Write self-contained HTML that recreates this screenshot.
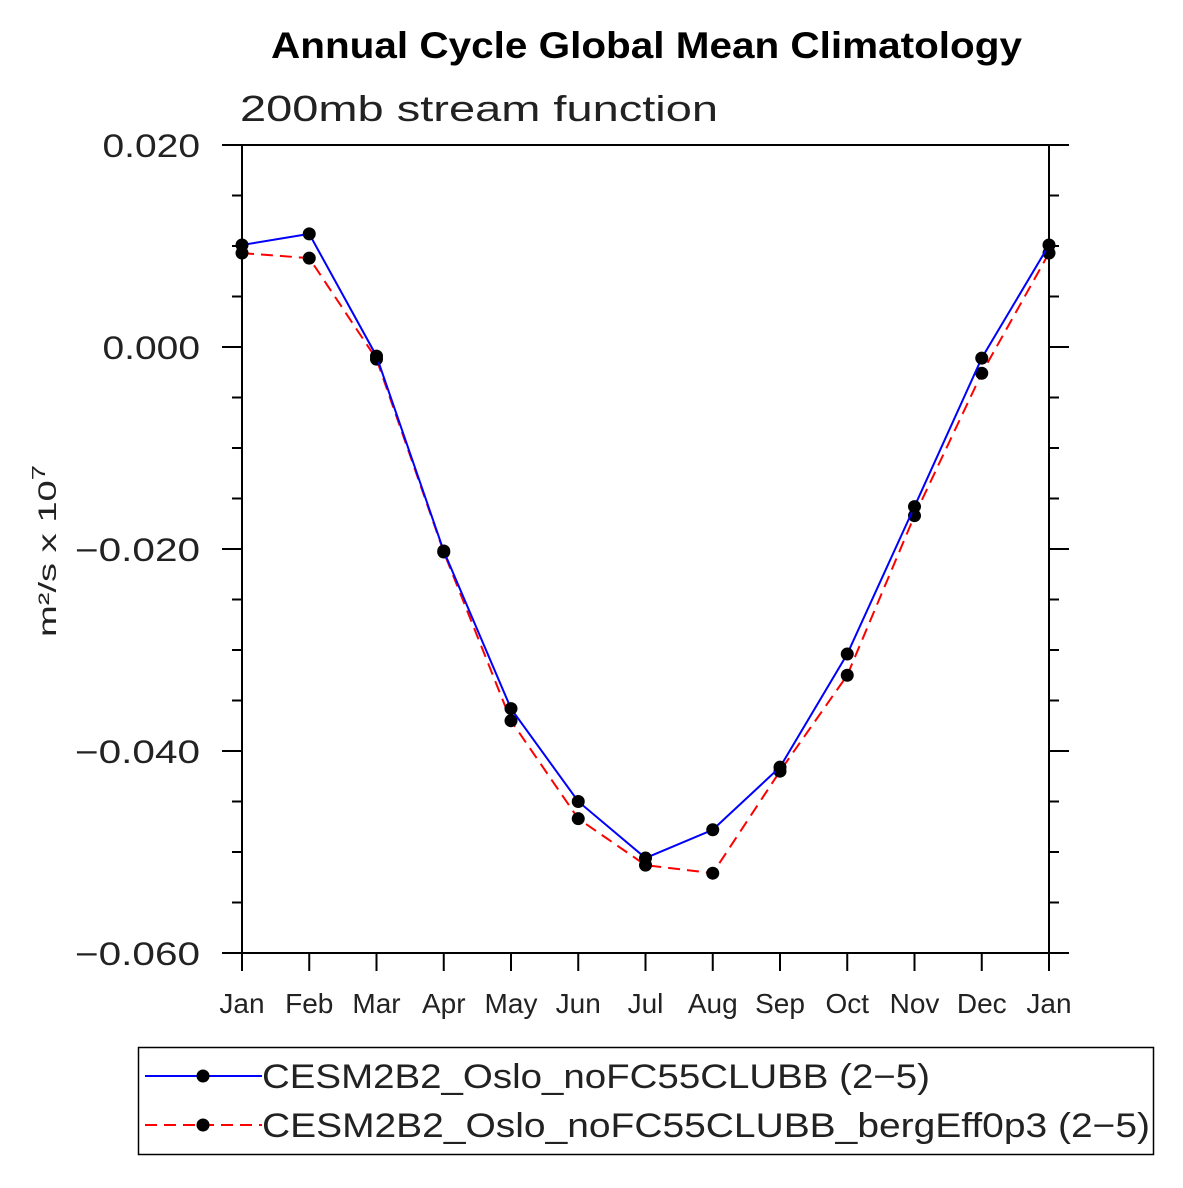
<!DOCTYPE html>
<html><head><meta charset="utf-8"><style>
body{margin:0;background:#fff}
svg text{font-family:"Liberation Sans",sans-serif}
</style></head><body>
<svg id="chart" width="1183" height="1183" xmlns="http://www.w3.org/2000/svg">
<text x="271" y="58" textLength="751" lengthAdjust="spacingAndGlyphs" font-size="37" font-weight="bold">Annual Cycle Global Mean Climatology</text>
<text x="240" y="121" textLength="478" lengthAdjust="spacingAndGlyphs" font-size="36" fill="#222">200mb stream function</text>
<text transform="translate(56,637) rotate(-90)" textLength="172" lengthAdjust="spacingAndGlyphs" font-size="25" fill="#222">m²/s x 10<tspan dy="-11" font-size="18">7</tspan></text>
<g id="axes"></g><g id="series"></g>
<rect x="138.5" y="1047.5" width="1015" height="107" fill="none" stroke="#000" stroke-width="1.5"/>
<g>
<line x1="145" y1="1076" x2="262" y2="1076" stroke="#0000ff" stroke-width="2"/><circle cx="203" cy="1076" r="6.5"/>
<text x="262" y="1088" textLength="668" lengthAdjust="spacingAndGlyphs" font-size="34" fill="#222">CESM2B2_Oslo_noFC55CLUBB (2−5)</text></g>
<g>
<line x1="145" y1="1125" x2="262" y2="1125" stroke="#ff0000" stroke-width="2" stroke-dasharray="12,7"/><circle cx="203" cy="1125" r="6.5"/>
<text x="262" y="1137" textLength="888" lengthAdjust="spacingAndGlyphs" font-size="34" fill="#222">CESM2B2_Oslo_noFC55CLUBB_bergEff0p3 (2−5)</text></g>
</svg>
<script>
const months=["Jan","Feb","Mar","Apr","May","Jun","Jul","Aug","Sep","Oct","Nov","Dec","Jan"];
const blueVals=[0.0101,0.0112,-0.0009,-0.0202,-0.0358,-0.0450,-0.0506,-0.0478,-0.0416,-0.0304,-0.0158,-0.0011,0.0101];
const redVals=[0.0093,0.0088,-0.0012,-0.0203,-0.0370,-0.0467,-0.0513,-0.0521,-0.0420,-0.0325,-0.0167,-0.0026,0.0093];
const yTicks=[0.02,0,-0.02,-0.04,-0.06];
const yTickLabels=["0.020","0.000","−0.020","−0.040","−0.060"];
const NS="http://www.w3.org/2000/svg";
const X0=242,X1=1049,Y0=145,Y1=953,YMAX=0.02,YMIN=-0.06;
const xs=i=>X0+(X1-X0)*i/(months.length-1);
const ys=v=>Y0+(YMAX-v)/(YMAX-YMIN)*(Y1-Y0);
function mk(tag,attrs,parent){const e=document.createElementNS(NS,tag);for(const k in attrs)e.setAttribute(k,attrs[k]);parent.appendChild(e);return e;}
const ax=document.getElementById('axes');
const fr=mk('rect',{x:X0,y:Y0,width:X1-X0,height:Y1-Y0,fill:'none',stroke:'#000','stroke-width':2},ax);


for(let v=YMIN;v<=YMAX+1e-9;v+=0.005){
  const y=ys(v);const major=Math.abs(Math.round(v/0.02)*0.02-v)<1e-9;const L=major?20:10;
  mk('line',{x1:X0-L,y1:y,x2:X0,y2:y,stroke:'#000','stroke-width':2},ax);
  mk('line',{x1:X1,y1:y,x2:X1+L,y2:y,stroke:'#000','stroke-width':2},ax);
}
yTicks.forEach((v,i)=>{
  const lab=yTickLabels[i];
  const w=lab.length*19.5+(lab.startsWith('−')?8:0);
  const t=mk('text',{x:200-w,y:ys(v)+12,textLength:w,lengthAdjust:'spacingAndGlyphs','font-size':32,fill:'#222'},ax);
  t.textContent=lab;
  
  
});
months.forEach((m,i)=>{
  const x=xs(i);
  mk('line',{x1:x,y1:Y1,x2:x,y2:Y1+18,stroke:'#000','stroke-width':2},ax);
  const t=mk('text',{x:x,y:1013,'text-anchor':'middle','font-size':28,fill:'#222'},ax);
  t.textContent=m;
  
  
});
const sg=document.getElementById('series');
function series(vals,color,dash,name){
  const p=mk('polyline',{points:vals.map((v,i)=>xs(i)+','+ys(v)).join(' '),fill:'none',stroke:color,'stroke-width':2,'stroke-dasharray':dash},sg);
  
  
  vals.forEach((v,i)=>{
    const c=mk('circle',{cx:xs(i),cy:ys(v),r:6.5,fill:'#000'},sg);
    
    
  });
}
series(redVals,'#ff0000','12,7','red-series');
series(blueVals,'#0000ff','none','blue-series');
</script>
</body></html>
